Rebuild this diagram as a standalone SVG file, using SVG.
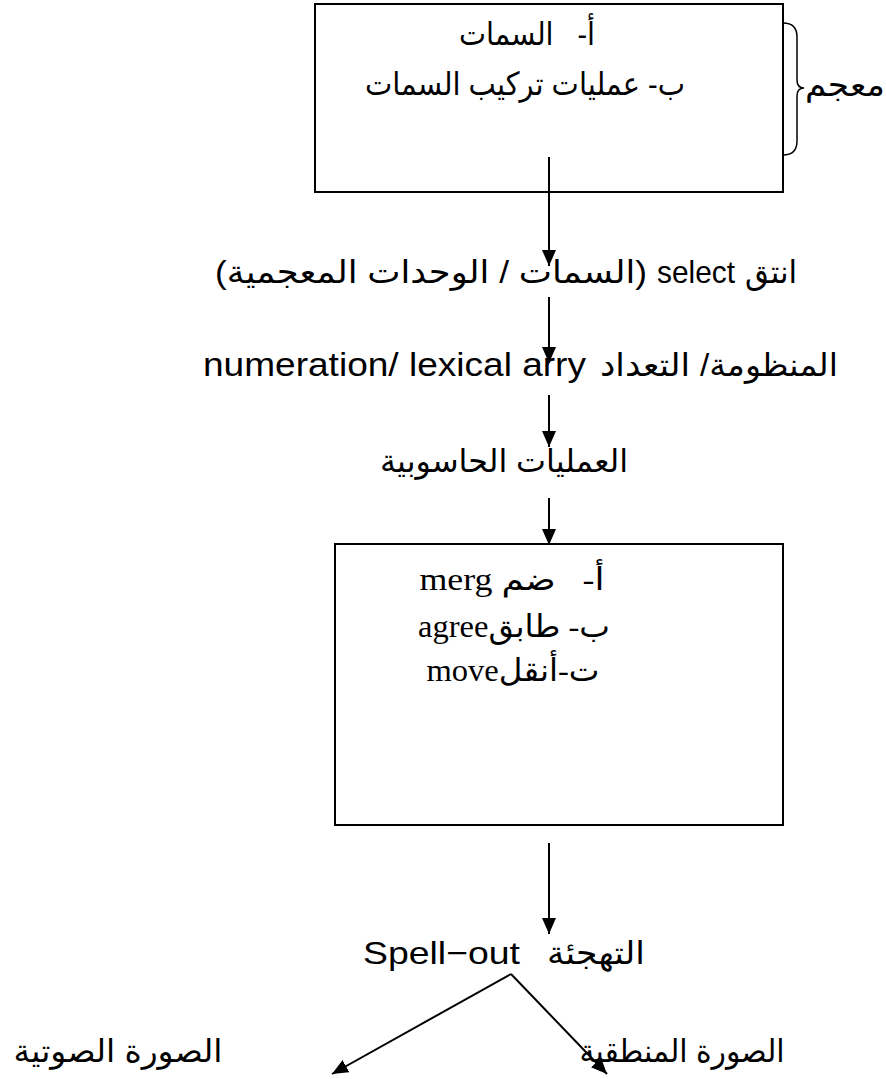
<svg xmlns="http://www.w3.org/2000/svg" width="886" height="1079" viewBox="0 0 886 1079">
  <style>
    .box { fill: #ffffff; stroke: #000000; stroke-width: 2; }
    .conn { stroke: #000000; stroke-width: 2; fill: none; marker-end: url(#head); }
    .brace { stroke: #000000; stroke-width: 1.5; fill: none; }
    text { white-space: pre; fill: #000000; }
    .sans { font-family: "Liberation Sans", "DejaVu Sans", Arial, sans-serif; font-size: 32px; }
    .serif { font-family: "Liberation Serif", "DejaVu Serif", "DejaVu Sans", serif; font-size: 31px; }
  </style>
  <defs>
    <marker id="head" viewBox="0 0 16 14" refX="16" refY="7" markerWidth="16" markerHeight="14" markerUnits="userSpaceOnUse" orient="auto">
      <path d="M0,0 L16,7 L0,14 Z" fill="#000000"/>
    </marker>
  </defs>

  <rect width="886" height="1079" fill="#ffffff"/>

  <!-- lexicon box -->
  <g id="lexicon">
    <rect class="box" x="315" y="4" width="468" height="188"/>
    <text class="sans" x="527" y="45" text-anchor="middle" direction="rtl" textLength="136" lengthAdjust="spacingAndGlyphs">أ-   السمات</text>
    <text class="sans" x="525" y="95" text-anchor="middle" direction="rtl" textLength="320" lengthAdjust="spacingAndGlyphs">ب- عمليات تركيب السمات</text>
  </g>

  <!-- brace and its label -->
  <g id="lexicon-label">
    <path class="brace" d="M783,23 Q797,23 797,37 L797,80 Q797,88 804,88 Q797,88 797,96 L797,141 Q797,155 783,155"/>
    <text class="sans" x="845" y="96" text-anchor="middle" direction="rtl" textLength="80" lengthAdjust="spacingAndGlyphs">معجم</text>
  </g>

  <!-- select step -->
  <g id="select">
    <text class="sans" x="771" y="283" text-anchor="middle" direction="rtl" textLength="52" lengthAdjust="spacingAndGlyphs">انتق</text>
    <text class="sans" x="657" y="283" textLength="78" lengthAdjust="spacingAndGlyphs">select</text>
    <text class="sans" x="431" y="283" text-anchor="middle" direction="rtl" textLength="432" lengthAdjust="spacingAndGlyphs">(السمات / الوحدات المعجمية)</text>
  </g>

  <!-- numeration step -->
  <g id="numeration">
    <text class="sans" x="203" y="376" style="font-size:34px" textLength="383" lengthAdjust="spacingAndGlyphs">numeration/ lexical arry</text>
    <text class="sans" x="645" y="376" text-anchor="middle" direction="rtl" textLength="90" lengthAdjust="spacingAndGlyphs">التعداد</text>
    <text class="sans" x="769" y="376" text-anchor="middle" direction="rtl" textLength="138" lengthAdjust="spacingAndGlyphs">المنظومة/</text>
  </g>

  <g id="computation">
    <text class="sans" x="504" y="472" text-anchor="middle" direction="rtl" textLength="248" lengthAdjust="spacingAndGlyphs">العمليات الحاسوبية</text>
  </g>

  <!-- operations box -->
  <g id="operations">
    <rect class="box" x="335" y="544" width="448" height="281"/>
    <text class="serif" x="512" y="590" text-anchor="middle" direction="rtl" textLength="185" lengthAdjust="spacingAndGlyphs">أ-   ضم merg</text>
    <text class="serif" x="514" y="637" text-anchor="middle" direction="rtl" textLength="192" lengthAdjust="spacingAndGlyphs">ب- طابقagree</text>
    <text class="serif" x="513" y="681" text-anchor="middle" direction="rtl" textLength="173" lengthAdjust="spacingAndGlyphs">ت-أنقلmove</text>
  </g>

  <!-- spell-out step -->
  <g id="spellout">
    <text class="sans" x="363" y="964" textLength="157" lengthAdjust="spacingAndGlyphs">Spell−out</text>
    <text class="sans" x="596" y="964" text-anchor="middle" direction="rtl" textLength="98" lengthAdjust="spacingAndGlyphs">التهجئة</text>
  </g>

  <g id="phonetic-form">
    <text class="sans" x="118" y="1062" text-anchor="middle" direction="rtl" textLength="209" lengthAdjust="spacingAndGlyphs">الصورة الصوتية</text>
  </g>

  <g id="logical-form">
    <text class="sans" x="682" y="1062" text-anchor="middle" direction="rtl" textLength="205" lengthAdjust="spacingAndGlyphs">الصورة المنطقية</text>
  </g>

  <!-- connectors -->
  <g id="connectors">
    <line class="conn" x1="549" y1="157" x2="549" y2="266"/>
    <line class="conn" x1="549" y1="297" x2="549" y2="363"/>
    <line class="conn" x1="549" y1="395" x2="549" y2="447"/>
    <line class="conn" x1="549" y1="498" x2="549" y2="545"/>
    <line class="conn" x1="549" y1="843" x2="549" y2="934"/>
    <line class="conn" x1="511" y1="974" x2="332" y2="1074"/>
    <line class="conn" x1="511" y1="974" x2="607" y2="1074"/>
  </g>
</svg>
